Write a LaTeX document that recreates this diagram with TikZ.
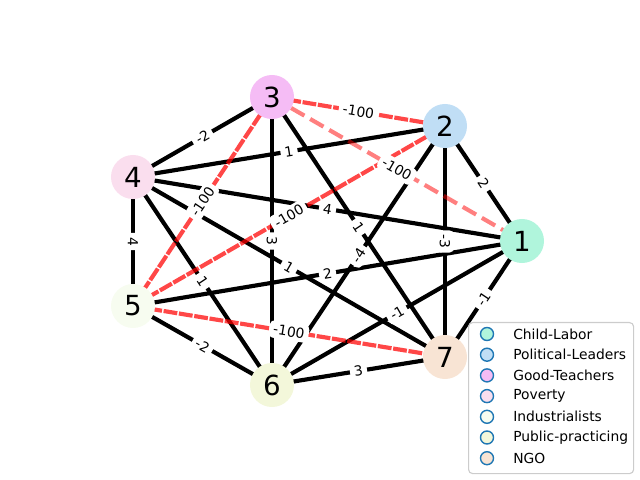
\documentclass[tikz,border=0pt]{standalone}
\usepackage{fontspec}
\setmainfont{DejaVu Sans}
\begin{document}
\begin{tikzpicture}[x=0.01in,y=-0.01in,
  vtx/.style={circle,minimum size=0.44in,inner sep=0pt,font=\fontsize{20}{24}\selectfont},
  edg/.style={line width=3pt,black},
  redg/.style={line width=3pt,red,draw opacity=0.72,dash pattern=on 10pt off 1.2pt},
  pedg/.style={line width=3pt,red,draw opacity=0.5,dash pattern=on 11.1pt off 4.8pt},
  elab/.style={sloped,fill=white,rounded corners=3pt,inner xsep=3pt,inner ysep=2.5pt,font=\fontsize{10}{12}\selectfont},
  legmark/.style={circle,draw={rgb,255:red,31;green,119;blue,180},line width=1pt,minimum size=0.13in,inner sep=0pt},
  legtext/.style={anchor=west,font=\fontsize{10}{12}\selectfont,inner sep=0pt}]
\definecolor{c1}{RGB}{176,245,220}
\definecolor{c2}{RGB}{192,222,245}
\definecolor{c3}{RGB}{245,188,245}
\definecolor{c4}{RGB}{250,222,238}
\definecolor{c5}{RGB}{247,252,240}
\definecolor{c6}{RGB}{243,247,218}
\definecolor{c7}{RGB}{248,228,212}
\useasboundingbox (0,0) rectangle (640,480);
% coordinates of node centres
\coordinate (p1) at (522,241);
\coordinate (p2) at (445,126);
\coordinate (p3) at (272,97);
\coordinate (p4) at (133,177);
\coordinate (p5) at (133,306);
\coordinate (p6) at (272,385);
\coordinate (p7) at (445,357);
% black edges
\foreach \a/\b in {p3/p4,p4/p2,p4/p1,p4/p5,p4/p6,p4/p7,p5/p1,p5/p6,p3/p6,p3/p7,p2/p1,p2/p7,p2/p6,p1/p7,p1/p6,p6/p7}
  \draw[edg] (\a) -- (\b);
% red edges
\draw[redg] (p3) -- (p2);
\draw[redg] (p5) -- (p3);
\draw[redg] (p5) -- (p2);
\draw[redg] (p5) -- (p7);
\draw[pedg] (p3) -- (p1);
% edge labels
\path (p3) -- node[elab]{-100} (p2);
\path (p3) -- node[elab]{-100} (p1);
\path (p3) -- node[elab]{-2} (p4);
\path (p4) -- node[elab]{1} (p2);
\path (p4) -- node[elab]{4} (p1);
\path (p4) -- node[elab]{4} (p5);
\path (p4) -- node[elab]{1} (p6);
\path (p4) -- node[elab]{1} (p7);
\path (p5) -- node[elab]{-100} (p3);
\path (p5) -- node[elab]{-100} (p2);
\path (p5) -- node[elab]{2} (p1);
\path (p5) -- node[elab]{-2} (p6);
\path (p5) -- node[elab]{-100} (p7);
\path (p3) -- node[elab]{3} (p6);
\path (p3) -- node[elab]{1} (p7);
\path (p2) -- node[elab]{2} (p1);
\path (p2) -- node[elab]{-3} (p7);
\path (p2) -- node[elab]{-4} (p6);
\path (p1) -- node[elab]{-1} (p7);
\path (p1) -- node[elab]{-1} (p6);
\path (p6) -- node[elab]{3} (p7);
% nodes
\node[vtx,fill=c1] (n1) at (p1) {1};
\node[vtx,fill=c2] (n2) at (p2) {2};
\node[vtx,fill=c3] (n3) at (p3) {3};
\node[vtx,fill=c4] (n4) at (p4) {4};
\node[vtx,fill=c5] (n5) at (p5) {5};
\node[vtx,fill=c6] (n6) at (p6) {6};
\node[vtx,fill=c7] (n7) at (p7) {7};
% legend
\node[draw={rgb,255:red,204;green,204;blue,204},line width=0.8pt,fill=white,fill opacity=0.8,rounded corners=3pt,
  minimum width=1.65in,minimum height=1.51in,anchor=north west,inner sep=0pt] (leg) at (468,322) {};
\foreach \i/\t [count=\k from 0] in {1/Child-Labor,2/Political-Leaders,3/Good-Teachers,4/Poverty,5/Industrialists,6/Public-practicing,7/NGO}{
  \node[legmark,fill=c\i] (m\i) at (487,{334+20.7*\k}) {};
  \node[legtext] (t\i) at (513,{334+20.7*\k}) {\t};
}
\end{tikzpicture}
\end{document}
